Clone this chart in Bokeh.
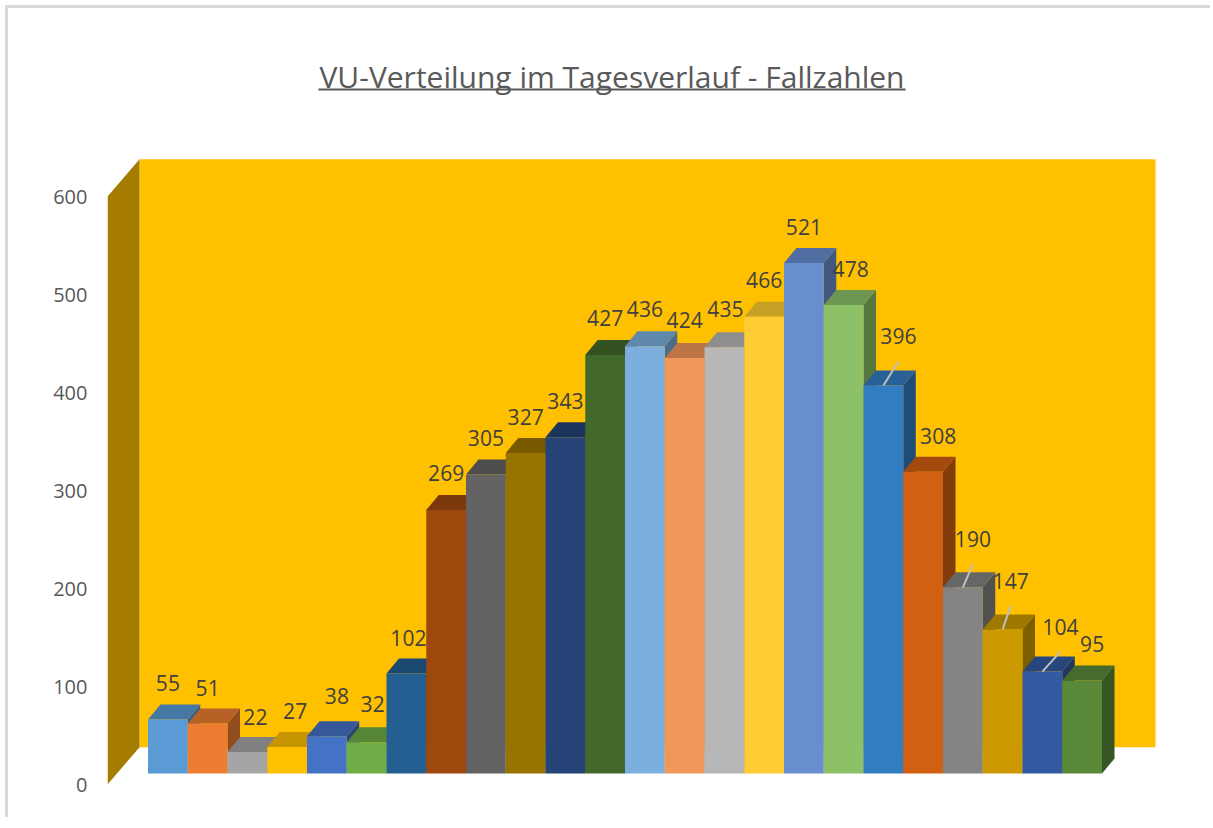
from bokeh.plotting import figure
from bokeh.models import FixedTicker, Label, BoxAnnotation, ColumnDataSource, Range1d
from bokeh.embed import file_html
from bokeh.resources import INLINE
from bokeh.core.properties import value

# ---------------- data ----------------
hours = list(range(24))
counts = [55, 51, 22, 27, 38, 32, 102, 269, 305, 327, 343, 427,
          436, 424, 435, 466, 521, 478, 396, 308, 190, 147, 104, 95]
bar_colors = ["#5B9BD5", "#ED7D31", "#A5A5A5", "#FFC000", "#4472C4", "#70AD47",
              "#255E91", "#9E480E", "#636363", "#997300", "#264478", "#43682B",
              "#7CAFDD", "#F1975A", "#B7B7B7", "#FFCD33", "#698ED0", "#8CC168",
              "#327DC2", "#D26012", "#848484", "#CC9A00", "#335AA1", "#5A8A39"]
y_ticks = [0, 100, 200, 300, 400, 500, 600]
title_text = "VU-Verteilung im Tagesverlauf - Fallzahlen"

# data label nudges (screen px, relative to bar front-top centre) and leader lines
label_dx = [0, 0, 8, 8, 10, 6, 2, 0, 0, 0, 0, 0, 0, 0, 1, 0, 0, 7, 15, 15, 10, 8, 18, 10]
label_dy = [-37, -36, -35, -36, -40, -38, -36, -37, -37, -36, -36, -37,
            -37, -38, -38, -37, -36, -36, -49, -36, -48, -48, -45, -36]
has_leader = [False] * 18 + [True, False, True, True, True, False]

FONT = "Open Sans"

# ---------------- geometry ----------------
OFF = 8           # chart area starts 8px in (inside a light frame line)
W, H = 1213 - OFF, 820 - OFF
LEFT = 107 - OFF
PX_X = 39.75      # px per category
PX_Y = 0.98       # px per count
ZERO_Y = 784 - OFF  # px (from top) of value 0 on the front plane
PAD = 0.78        # floor padding in categories
n = len(hours)
ymax = y_ticks[-1]

# oblique depth shifts (data units)
FX, FY = 9.5 / PX_X, 11 / PX_Y     # bar front
BX, BY = 22 / PX_X, 26 / PX_Y      # bar back
WX, WY = 32 / PX_X, 37.3 / PX_Y    # back wall

x_start = -0.5 - PAD
x_end = x_start + (W - LEFT) / PX_X
y_start = -(H - ZERO_Y) / PX_Y
y_end = ZERO_Y / PX_Y

def shade(c, f):
    c = c.lstrip("#")
    r, g, b = (int(c[i:i + 2], 16) for i in (0, 2, 4))
    return "#%02x%02x%02x" % (int(r * f), int(g * f), int(b * f))

p = figure(width=W, height=H, output_backend="svg", toolbar_location=None,
           x_range=Range1d(x_start, x_end), y_range=Range1d(y_start, y_end),
           x_axis_location=None, min_border_left=LEFT, min_border_right=0,
           min_border_top=0, min_border_bottom=0, tools="",
           styles={"margin-left": "5px", "margin-top": "5px",
                   "border-left": "3px solid #D9D9D9", "border-top": "3px solid #D9D9D9"})
p.outline_line_color = None
p.grid.grid_line_color = None
p.background_fill_color = "white"
p.border_fill_color = "white"

yax = p.yaxis[0]
yax.ticker = FixedTicker(ticks=y_ticks)
yax.axis_line_color = None
yax.major_tick_line_color = None
yax.minor_tick_line_color = None
yax.major_tick_out = 0
yax.major_tick_in = 0
yax.major_label_standoff = 20
yax.major_label_text_font = FONT
yax.major_label_text_font_size = "20px"
yax.major_label_text_color = "#595959"

# ---------------- walls ----------------
xl, xr = -0.5 - PAD, n - 0.5 + PAD
p.patch([xl + WX, xr + WX, xr + WX, xl + WX], [WY, WY, ymax + WY, ymax + WY],
        fill_color="#FFC000", line_color=None)
p.patch([xl, xl + WX, xl + WX, xl], [0, WY, ymax + WY, ymax],
        fill_color="#A67C00", line_color=None)

# ---------------- bars ----------------
side_xs, side_ys, top_xs, top_ys = [], [], [], []
for h, v in zip(hours, counts):
    side_xs.append([h + 0.5 + FX, h + 0.5 + BX, h + 0.5 + BX, h + 0.5 + FX])
    side_ys.append([FY, BY, v + BY, v + FY])
    top_xs.append([h - 0.5 + FX, h + 0.5 + FX, h + 0.5 + BX, h - 0.5 + BX])
    top_ys.append([v + FY, v + FY, v + BY, v + BY])

p.patches(side_xs, side_ys, fill_color=[shade(c, 0.62) for c in bar_colors], line_color=None)
p.patches(top_xs, top_ys, fill_color=[shade(c, 0.78) for c in bar_colors], line_color=None)

src = ColumnDataSource(dict(
    left=[h - 0.5 + FX for h in hours], right=[h + 0.5 + FX for h in hours],
    top=[v + FY for v in counts], bottom=[FY] * n, color=bar_colors))
p.quad(left="left", right="right", top="top", bottom="bottom", fill_color="color",
       line_color=None, source=src)

# ---------------- data labels ----------------
lx = [h + FX + dx / PX_X for h, dx in zip(hours, label_dx)]
ly = [v + FY - dy / PX_Y for v, dy in zip(counts, label_dy)]

sx0, sy0, sx1, sy1 = [], [], [], []
for h, v, x, y, f in zip(hours, counts, lx, ly, has_leader):
    if f:
        sx0.append(h + FX); sy0.append(v + FY)
        sx1.append(x); sy1.append(y - 25 / PX_Y)
p.segment(sx0, sy0, sx1, sy1, line_color="#BFBFBF", line_width=2)

p.text(lx, ly, text=[str(v) for v in counts], text_font=value(FONT),
       text_font_size="21px", text_color="#404040", text_align="center",
       text_baseline="middle")

# ---------------- title ----------------
title_cx = 611.5 - 107          # relative to plot area left
p.add_layout(Label(x=title_cx, y=H - (85 - OFF) + 9, x_units="screen", y_units="screen",
                   text=title_text, text_align="center", text_baseline="alphabetic",
                   text_font=FONT, text_font_size="30px", text_color="#595959"))
p.add_layout(BoxAnnotation(left=title_cx - 293.5, right=title_cx + 293.5,
                           bottom=H - (90 - OFF), top=H - (88 - OFF),
                           left_units="screen", right_units="screen",
                           bottom_units="screen", top_units="screen",
                           fill_color="#595959", fill_alpha=1, line_color=None))

open("out.html", "w").write(file_html(p, INLINE))
